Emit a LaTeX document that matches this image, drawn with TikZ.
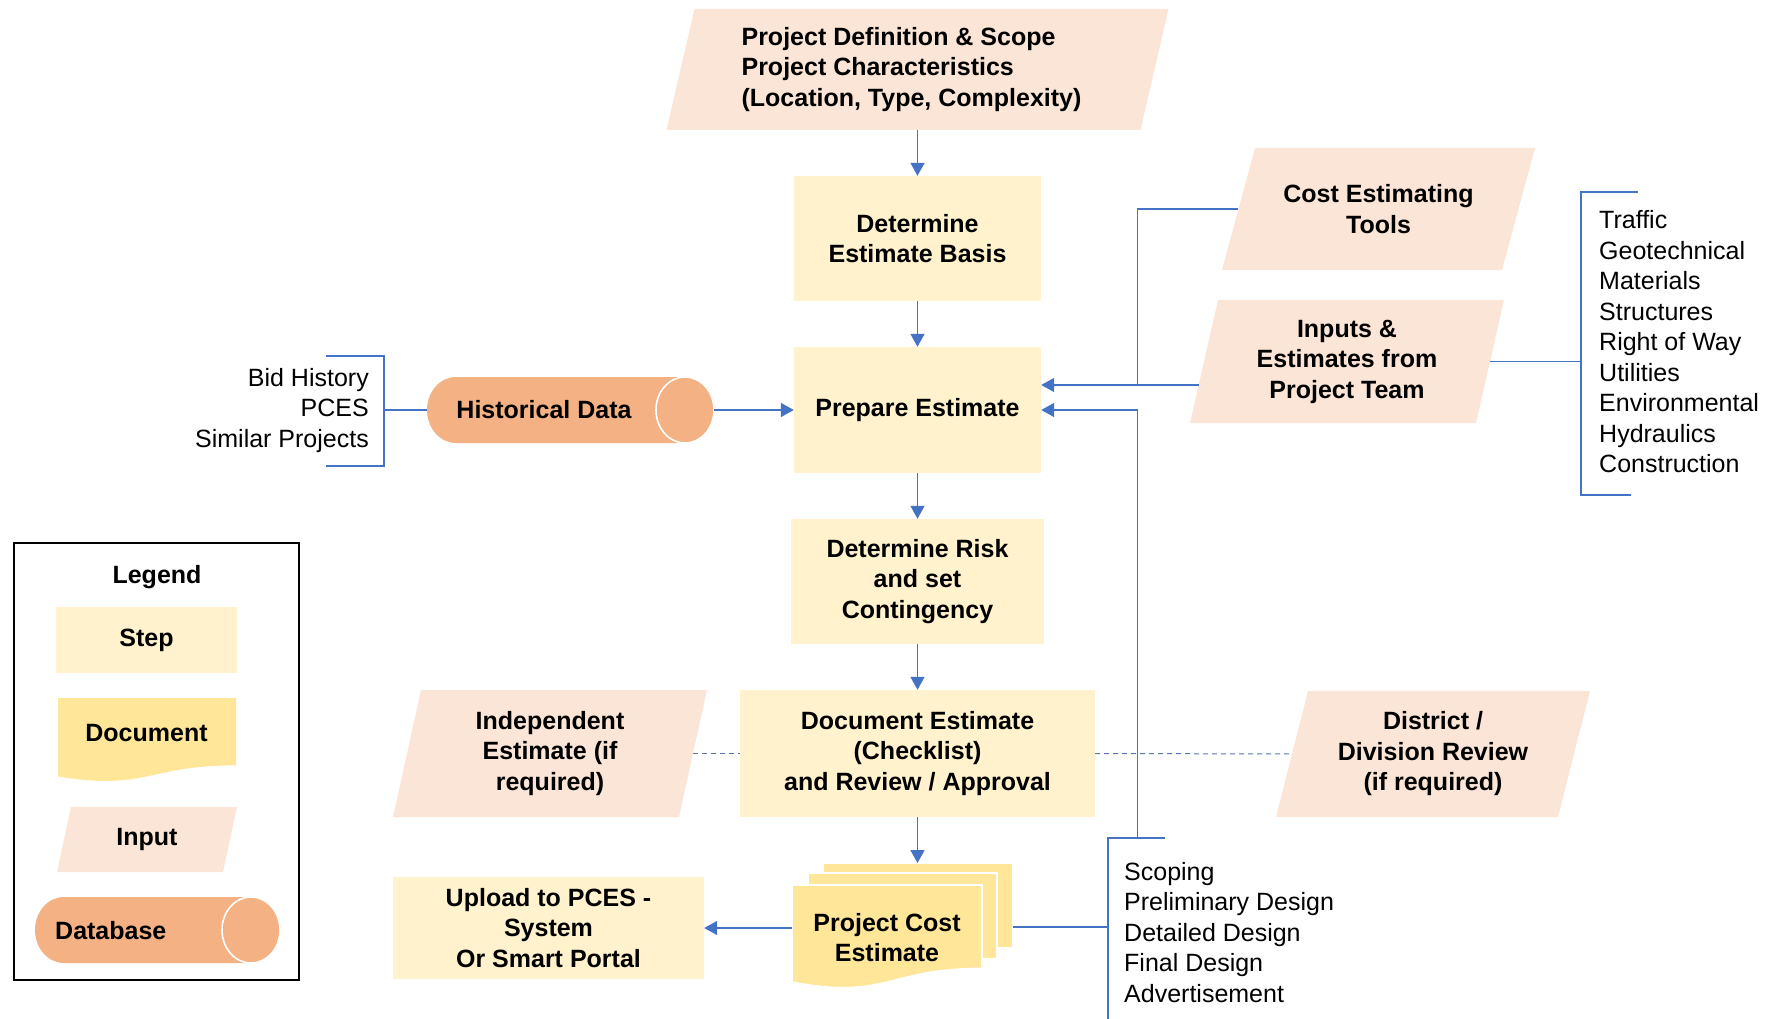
\documentclass[tikz,border=0pt]{standalone}
\usepackage{fontspec}
\setmainfont{Liberation Sans}
\usetikzlibrary{arrows.meta}

\definecolor{stepfill}{HTML}{FFF2CC}
\definecolor{docfill}{HTML}{FFE699}
\definecolor{inputfill}{HTML}{FBE5D6}
\definecolor{dbfill}{HTML}{F4B183}
\definecolor{linkblue}{HTML}{4472C4}

% slanted input shape: [node options]{name}{cx}{cy}{width}{height}{slant}{text}
\newcommand{\slantbox}[8][]{%
  \fill[inputfill] ({#3-#5/2-#7/2},{#4+#6/2}) -- ++(#5,0) -- ++(#7,-#6) -- ++(-#5,0) -- cycle;
  \node[txt, minimum width=#5pt, minimum height=#6pt, #1] (#2) at (#3,#4) {#8};
}
% database drum: {left x}{right x}{cy}{rx}{ry}
\newcommand{\drum}[5]{%
  \fill[dbfill] ({#1+#4},{#3-#5}) -- ({#2-#4},{#3-#5}) arc (-90:90:#4 and #5)
    -- ({#1+#4},{#3+#5}) arc (90:270:#4 and #5) -- cycle;
  \filldraw[dbfill, draw=white, line width=1.6pt] ({#2-#4},#3) ellipse [x radius=#4, y radius=#5];
}
% document sheet with wavy lower edge: {left x}{top y}{w}{h}{style}
\newcommand{\docsheet}[5]{%
  \path[#5] (#1,#2) -- ++(#3,0) -- ({#1+#3},{#2+0.802*#4})
    .. controls ({#1+0.5*#3},{#2+0.802*#4}) and ({#1+0.5*#3},{#2+1.1075*#4}) .. (#1,{#2+0.934*#4}) -- cycle;
}

\tikzset{
  txt/.style={font=\fontsize{25}{30.5}\selectfont\bfseries, align=center, inner sep=0pt},
  plain/.style={font=\fontsize{25}{30.5}\selectfont, inner sep=0pt},
  stepbox/.style={txt, fill=stepfill},
  link/.style={draw=linkblue, line width=1.5pt},
  arr/.style={link, -{Triangle[width=14pt,length=13pt]}},
  dashline/.style={draw=linkblue!70!gray, line width=1pt, dash pattern=on 5pt off 4pt},
}

\begin{document}
\begin{tikzpicture}[x=1pt, y=-1pt]
\useasboundingbox (0,0) rectangle (1769,1019);

% ---------- main column ----------
\slantbox[align=left, xshift=-6pt]{defn}{917.5}{69.5}{474}{121}{28}{Project Definition \& Scope\\Project Characteristics\\(Location, Type, Complexity)}
\node[stepbox, minimum width=247pt, minimum height=125pt] (basis) at (917.5,238.5) {Determine\\Estimate Basis};
\node[stepbox, minimum width=247pt, minimum height=126pt] (prepare) at (917.5,410) {Prepare Estimate};
\node[stepbox, minimum width=253pt, minimum height=125pt] (risk) at (917.5,581.5) {Determine Risk\\and set\\Contingency};
\node[stepbox, minimum width=355pt, minimum height=127pt] (docest) at (917.5,753.5) {Document Estimate\\(Checklist)\\and Review / Approval};

% project cost estimate: stacked sheets
\filldraw[docfill, draw=white, line width=1.6pt] (823,863) rectangle (1013,948);
\filldraw[docfill, draw=white, line width=1.6pt] (808,873) rectangle (997,959);
\docsheet{792}{885}{190}{104}{fill=docfill, draw=white, line width=1.6pt}
\node[txt, minimum width=190pt, minimum height=104pt] (pce) at (887,937.5) {Project Cost\\Estimate};
\coordinate (pce-top) at (917.5,863);
\coordinate (pce-r) at (1013,927);

\node[stepbox, minimum width=311pt, minimum height=102pt] (upload) at (548.5,928) {Upload to PCES -\\System\\Or Smart Portal};

% ---------- side inputs ----------
\slantbox{indep}{550}{753.5}{286}{127}{28}{Independent\\Estimate (if\\required)}
\slantbox{district}{1433}{754}{282}{126}{32}{District /\\Division Review\\(if required)}
\slantbox{tools}{1378.5}{209}{280}{122}{33}{Cost Estimating\\Tools}
\slantbox{inputs}{1347}{361.5}{286}{123}{28}{Inputs \&\\Estimates from\\Project Team}

% historical data drum
\drum{427}{714}{410}{29}{33}
\node[txt] (hist) at (544,410) {Historical Data};
\coordinate (hist-l) at (427,410);
\coordinate (hist-r) at (714,410);

% ---------- lists ----------
\node[plain, align=right, anchor=east] (bids) at (369,410.5) {Bid History\\PCES\\Similar Projects};
\node[plain, align=left, anchor=west] (disc) at (1599,342) {Traffic\\Geotechnical\\Materials\\Structures\\Right of Way\\Utilities\\Environmental\\Hydraulics\\Construction};
\node[plain, align=left, anchor=west] (phases) at (1124,932.5) {Scoping\\Preliminary Design\\Detailed Design\\Final Design\\Advertisement};

% ---------- connectors ----------
\draw[arr] (defn.south -| basis.north) -- (basis.north);
\draw[arr] (basis.south) -- (prepare.north);
\draw[arr] (prepare.south) -- (risk.north);
\draw[arr] (risk.south) -- (docest.north);
\draw[arr] (docest.south) -- (pce-top);
\draw[arr] (pce.west |- upload.east) -- (upload.east);
\draw[arr] (hist-r) -- (prepare.west);

\coordinate (tj) at (1137.5,385);
\coordinate (inp-in) at (1198.6,385);
\coordinate (spine) at (1137.5,838);
\draw[link] (tools.west) -| (tj);
\draw[arr] (inp-in) -- (inp-in -| prepare.east);
\draw[arr] (spine) |- (prepare.east);

\draw[dashline] (indep.east) -- (docest.west);
\draw[dashline] (docest.east) -- (district.west);

% brackets
\coordinate (bidk) at (384,410);
\draw[link] (326,356) -- (384,356) -- (384,466) -- (326,466);
\draw[link] (bidk) -- (hist-l);
\coordinate (tbk) at (1581,361.5);
\draw[link] (1638,192) -- (1581,192) -- (1581,495) -- (1631,495);
\draw[link] (inputs.east) -- (tbk);
\coordinate (sbk) at (1108,927);
\draw[link] (1165,838) -- (1108,838) -- (1108,1030);
\draw[link] (pce-r) -- (sbk);

% ---------- legend ----------
\node[draw=black, line width=2pt, minimum width=285pt, minimum height=437pt, inner sep=0pt] (legend) at (156.5,761.5) {};
\node[txt] (legtitle) at (157,577) {Legend};
\node[stepbox, minimum width=181pt, minimum height=66pt] (legstep) at (146.5,640) {Step};
\docsheet{58}{698}{178}{84}{fill=docfill}
\node[txt] (legdoc) at (146.5,733) {Document};
\slantbox{leginput}{147}{839.5}{166}{65}{14}{Input}
\drum{35}{280}{930}{29}{33}
\node[txt, anchor=west] (legdb) at (55,931) {Database};
\end{tikzpicture}
\end{document}
